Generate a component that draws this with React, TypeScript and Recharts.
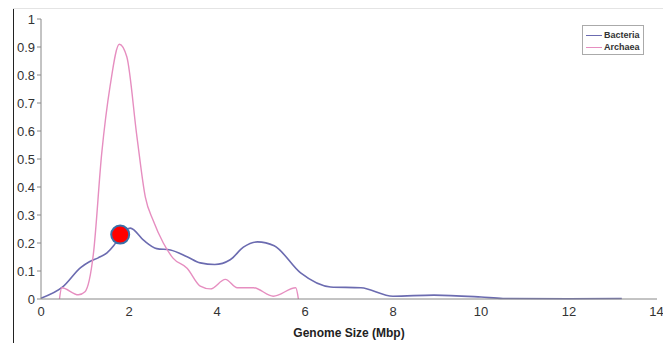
import React from 'react';
import {
  LineChart,
  Line,
  XAxis,
  YAxis,
  ReferenceDot,
  Label,
} from 'recharts';

const bacteriaX = [0, 0.5, 0.9, 1.1, 1.3, 1.5, 1.65, 1.8, 2.03, 2.33, 2.63, 2.94, 3.32, 3.62, 3.95, 4.3, 4.6, 4.92, 5.3, 5.9, 6.58, 7.27, 8.0, 8.93, 10.0, 10.5, 12, 13.2];
const bacteriaY = [0.003, 0.044, 0.112, 0.133, 0.147, 0.165, 0.19, 0.225, 0.253, 0.21, 0.18, 0.175, 0.151, 0.129, 0.123, 0.14, 0.185, 0.204, 0.19, 0.093, 0.043, 0.04, 0.01, 0.014, 0.007, 0.002, 0.001, 0.002];

const archaeaX = [0.42, 0.47, 0.85, 1.0, 1.19, 1.38, 1.57, 1.78, 1.95, 2.18, 2.37, 2.55, 2.78, 3.0, 3.32, 3.62, 3.85, 4.19, 4.46, 4.83, 5.28, 5.79, 5.85];
const archaeaY = [0.0, 0.04, 0.015, 0.026, 0.16, 0.52, 0.76, 0.91, 0.865, 0.58, 0.365, 0.28, 0.2, 0.146, 0.11, 0.046, 0.036, 0.07, 0.04, 0.04, 0.01, 0.04, 0.0];

const xTicks = [0, 2, 4, 6, 8, 10, 12, 14];
const yTicks = [0, 0.1, 0.2, 0.3, 0.4, 0.5, 0.6, 0.7, 0.8, 0.9, 1];

const highlight = [1.8, 0.23];

const bacteria = bacteriaX.map((x, i) => ({ x, y: bacteriaY[i] }));
const archaea = archaeaX.map((x, i) => ({ x, y: archaeaY[i] }));

const BLUE = '#6b6bb0';
const PINK = '#e68ec0';
const tickStyle = { fill: '#333', fontSize: 13, fontFamily: 'Liberation Sans, Arial, sans-serif' };

const App: React.FC = () => {
  return (
    <div style={{ position: 'absolute', left: 0, top: 0, width: 663, height: 343, background: '#fff' }}>
      <div style={{ position: 'absolute', left: 13, top: 8, width: 0, height: 335, borderLeft: '1.5px solid #222' }} />
      <div style={{ position: 'absolute', left: 13, top: 8, width: 650, height: 0, borderTop: '1px solid #e4e4e4' }} />
      <LineChart
        width={663}
        height={343}
        margin={{ top: 19, right: 6, bottom: 4, left: 0 }}
        style={{ position: 'absolute', left: 0, top: 0 }}
      >
        <XAxis
          dataKey="x"
          type="number"
          domain={[0, 14]}
          ticks={xTicks}
          tick={tickStyle}
          tickLine={false}
          axisLine={{ stroke: '#888' }}
          height={40}
          allowDuplicatedCategory={false}
        >
          <Label
            value="Genome Size (Mbp)"
            position="insideBottom"
            offset={2}
            style={{ fill: '#222', fontSize: 12, fontWeight: 'bold', fontFamily: 'Liberation Sans, Arial, sans-serif' }}
          />
        </XAxis>
        <XAxis xAxisId="top" orientation="top" type="number" domain={[0, 14]} tick={false} tickLine={false} height={0} axisLine={{ stroke: '#bbb' }} />
        <YAxis
          type="number"
          domain={[0, 1]}
          ticks={yTicks}
          tick={tickStyle}
          tickSize={4}
          tickLine={{ stroke: '#888' }}
          axisLine={{ stroke: '#888' }}
          width={41}
          interval={0}
        />
        <YAxis yAxisId="right" orientation="right" domain={[0, 1]} tick={false} tickLine={false} width={0} axisLine={{ stroke: '#bbb' }} />
        <Line
          data={bacteria}
          dataKey="y"
          type="monotone"
          stroke={BLUE}
          strokeWidth={1.6}
          dot={false}
          isAnimationActive={false}
        />
        <Line
          data={archaea}
          dataKey="y"
          type="monotone"
          stroke={PINK}
          strokeWidth={1.4}
          dot={false}
          isAnimationActive={false}
        />
        <ReferenceDot x={highlight[0]} y={highlight[1]} r={9} fill="#ff0000" stroke="#3a6fa8" strokeWidth={2} />
      </LineChart>
      <div
        style={{
          position: 'absolute',
          left: 582,
          top: 25,
          width: 62,
          height: 30,
          border: '1px solid #aaa',
          fontFamily: 'Liberation Sans, Arial, sans-serif',
          fontSize: 9,
          fontWeight: 'bold',
          color: '#333',
          lineHeight: '12px',
          padding: '3px 0 0 3px',
          boxSizing: 'border-box',
        }}
      >
        <div style={{ display: 'flex', alignItems: 'center' }}>
          <span style={{ display: 'inline-block', width: 16, height: 0, borderTop: `1.5px solid ${BLUE}`, marginRight: 2 }} />
          Bacteria
        </div>
        <div style={{ display: 'flex', alignItems: 'center' }}>
          <span style={{ display: 'inline-block', width: 16, height: 0, borderTop: `1.5px solid ${PINK}`, marginRight: 2 }} />
          Archaea
        </div>
      </div>
    </div>
  );
};

export default App;
